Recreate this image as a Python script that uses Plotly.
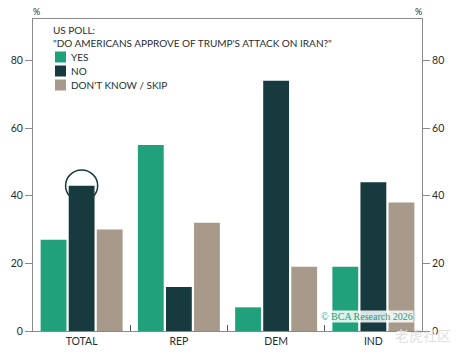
import plotly.graph_objects as go

categories = ["TOTAL", "REP", "DEM", "IND"]
yes_vals = [27, 55, 7, 19]
no_vals = [43, 13, 74, 44]
dk_vals = [30, 32, 19, 38]
series_names = ["YES", "NO", "DON'T KNOW / SKIP"]
y_ticks = [0, 20, 40, 60, 80]

colors = ["#20a07b", "#163a3e", "#a79a8a"]
FONT = "Lato"
TXT = "#1f2e33"

L, R, T, B = 33, 40, 19, 31
W, H = 462, 362
PW, PH = W - L - R, H - T - B

def px_x(x):
    return (x - L) / PW

def px_y(y):
    return (H - B - y) / PH

fig = go.Figure()
for vals, name, col in zip([yes_vals, no_vals, dk_vals], series_names, colors):
    fig.add_trace(go.Bar(x=categories, y=vals, name=name, marker_color=col,
                         marker_line_width=0, showlegend=False))

# invisible trace to activate right axis
fig.add_trace(go.Scatter(x=[categories[0]], y=[0], yaxis="y2", mode="markers",
                         marker=dict(opacity=0), showlegend=False, hoverinfo="skip"))

shapes = []
# highlight circle around TOTAL / NO bar top
shapes.append(dict(type="circle", xref="x", yref="y",
                   x0=-0.165, x1=0.165, y0=no_vals[0] - 4.6, y1=no_vals[0] + 4.6,
                   line=dict(color="#163a3e", width=1.5), layer="below"))

yr = [0, 92.3]
axis_common = dict(range=yr, tickvals=y_ticks, ticks="outside", ticklen=7,
                   tickcolor="#8a8a8a", tickfont=dict(family=FONT, size=10.5, color=TXT),
                   showgrid=False, zeroline=False, showline=True, linecolor="#8a8a8a",
                   linewidth=1, fixedrange=True, automargin=False)

fig.update_layout(
    width=W, height=H,
    margin=dict(l=L, r=R, t=T, b=B, autoexpand=False),
    paper_bgcolor="white", plot_bgcolor="white",
    barmode="group", bargap=0.134, bargroupgap=0.08,
    xaxis=dict(showline=True, linecolor="#8a8a8a", linewidth=1, mirror=True,
               ticks="inside", tickson="boundaries", ticklen=6, tickcolor="#555",
               tickfont=dict(family=FONT, size=10.5, color=TXT), showgrid=False,
               automargin=False, fixedrange=True),
    yaxis=axis_common,
    yaxis2=dict(**axis_common, overlaying="y", side="right"),
    showlegend=False,
)

annotations = [
    dict(text="US POLL:<br>\"DO AMERICANS APPROVE OF TRUMP'S ATTACK ON IRAN?\"",
         xref="paper", yref="paper", x=px_x(51), y=px_y(22),
         xanchor="left", yanchor="top", align="left", showarrow=False,
         font=dict(family=FONT, size=10, color=TXT)),
    dict(text="%", xref="paper", yref="paper", x=px_x(36), y=px_y(11),
         xanchor="center", yanchor="middle", showarrow=False,
         font=dict(family=FONT, size=9, color=TXT)),
    dict(text="%", xref="paper", yref="paper", x=px_x(418), y=px_y(11),
         xanchor="center", yanchor="middle", showarrow=False,
         font=dict(family=FONT, size=9, color=TXT)),
    dict(text="© BCA Research 2026", xref="paper", yref="paper",
         x=px_x(414), y=px_y(316), xanchor="right", yanchor="middle",
         showarrow=False, bgcolor="rgba(255,255,255,0.85)", borderpad=0,
         font=dict(family="Liberation Serif", size=10, color="#20a07b")),
    dict(text="老虎社区", xref="paper", yref="paper",
         x=px_x(453), y=px_y(335), xanchor="right", yanchor="middle",
         showarrow=False, font=dict(family="Noto Sans CJK SC", size=14, color="#e0e0e0")),
]

# manual legend (squares + labels)
leg_y = [57, 71, 85]
for name, col, yy in zip(series_names, colors, leg_y):
    shapes.append(dict(type="rect", xref="paper", yref="paper",
                       x0=px_x(55), x1=px_x(66), y0=px_y(yy + 5.5), y1=px_y(yy - 5.5),
                       fillcolor=col, line=dict(width=0)))
    annotations.append(dict(text=name, xref="paper", yref="paper",
                            x=px_x(69), y=px_y(yy), xanchor="left", yanchor="middle",
                            showarrow=False, font=dict(family=FONT, size=10, color=TXT)))

fig.update_layout(annotations=annotations, shapes=shapes)

fig.write_html("out.html", config={"displayModeBar": False},
               post_script="document.body.style.margin='0';")
